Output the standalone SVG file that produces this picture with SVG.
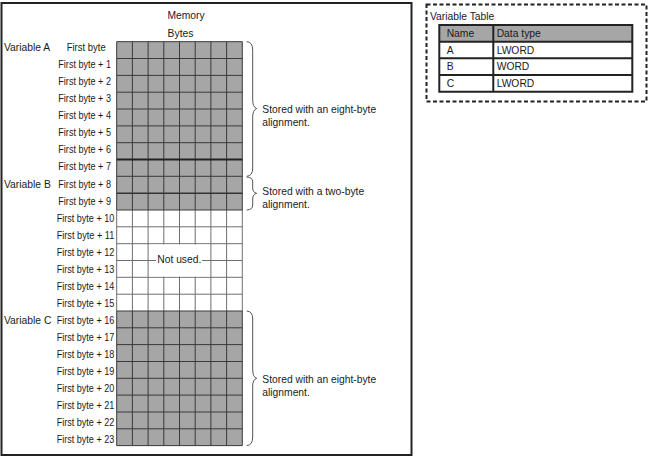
<svg xmlns="http://www.w3.org/2000/svg" width="649" height="460" viewBox="0 0 649 460">
<style>
text{font-family:"Liberation Sans",Arial,sans-serif;font-size:10.3px;fill:#1a1a1a}
.lbl{font-size:10.3px}
.gl{stroke:#3a3a3a;stroke-width:1;fill:none}
.wl{stroke:#6e6e6e;stroke-width:1;fill:none}
.br{stroke:#555;stroke-width:1;fill:none}
.cell{fill:#a6a6a6}
.tb{stroke:#222;stroke-width:2;fill:none}
</style>
<rect width="649" height="460" fill="#fff"/>
<rect id="frame" x="1.5" y="3" width="410" height="452" fill="none" stroke="#222" stroke-width="2"/>

<g id="memory">
<text x="186" y="19.3" text-anchor="middle">Memory</text>
<text x="180.5" y="37" text-anchor="middle">Bytes</text>
<!-- grey blocks -->
<rect class="cell" x="116.7" y="41.7" width="125.6" height="168.3"/>
<rect class="cell" x="116.7" y="311" width="125.6" height="134.6"/>
<!-- white area lines -->
<path class="wl" d="M116.7 226.8H242.3M116.7 243.7H242.3M116.7 260.5H242.3M116.7 277.3H242.3M116.7 294.2H242.3
M116.7 210V311M132.4 210V311M148.1 210V311M163.8 210V311M179.5 210V311M195.2 210V311M210.9 210V311M226.6 210V311M242.3 210V311"/>
<!-- grey area lines -->
<path class="gl" d="M116.7 41.7H242.3M116.7 58.5H242.3M116.7 75.4H242.3M116.7 92.2H242.3M116.7 109H242.3M116.7 125.9H242.3M116.7 142.7H242.3M116.7 176.3H242.3M116.7 210H242.3
M116.7 311H242.3M116.7 327.8H242.3M116.7 344.6H242.3M116.7 361.5H242.3M116.7 378.3H242.3M116.7 395.1H242.3M116.7 412H242.3M116.7 428.8H242.3M116.7 445.6H242.3
M116.7 41.7V210M132.4 41.7V210M148.1 41.7V210M163.8 41.7V210M179.5 41.7V210M195.2 41.7V210M210.9 41.7V210M226.6 41.7V210M242.3 41.7V210
M116.7 311V445.6M132.4 311V445.6M148.1 311V445.6M163.8 311V445.6M179.5 311V445.6M195.2 311V445.6M210.9 311V445.6M226.6 311V445.6M242.3 311V445.6"/>
<path d="M116.7 159.5H242.3" stroke="#222" stroke-width="1.8"/>
<path d="M116.7 193.2H242.3" stroke="#333" stroke-width="1.5"/>
<!-- Not used label -->
<rect x="149" y="244.5" width="61" height="32" fill="#fff"/>
<path class="wl" d="M149 260.5H156M202 260.5H210"/>
<text x="179.3" y="263.2" text-anchor="middle">Not used.</text>
</g>

<g id="row-labels">
<text x="4" y="51.3">Variable A</text>
<text x="4" y="187.5">Variable B</text>
<text x="4" y="323.6">Variable C</text>
<text x="66.7" y="51.3" textLength="39" lengthAdjust="spacingAndGlyphs">First byte</text>
<text x="58.3" y="68.3" textLength="52.7" lengthAdjust="spacingAndGlyphs">First byte + 1</text>
<text x="58.3" y="85.3" textLength="52.7" lengthAdjust="spacingAndGlyphs">First byte + 2</text>
<text x="58.3" y="102.4" textLength="52.7" lengthAdjust="spacingAndGlyphs">First byte + 3</text>
<text x="58.3" y="119.4" textLength="52.7" lengthAdjust="spacingAndGlyphs">First byte + 4</text>
<text x="58.3" y="136.4" textLength="52.7" lengthAdjust="spacingAndGlyphs">First byte + 5</text>
<text x="58.3" y="153.4" textLength="52.7" lengthAdjust="spacingAndGlyphs">First byte + 6</text>
<text x="58.3" y="170.4" textLength="52.7" lengthAdjust="spacingAndGlyphs">First byte + 7</text>
<text x="58.3" y="187.5" textLength="52.7" lengthAdjust="spacingAndGlyphs">First byte + 8</text>
<text x="58.3" y="204.5" textLength="52.7" lengthAdjust="spacingAndGlyphs">First byte + 9</text>
<text x="56.7" y="221.5" textLength="57.6" lengthAdjust="spacingAndGlyphs">First byte + 10</text>
<text x="56.7" y="238.5" textLength="57.6" lengthAdjust="spacingAndGlyphs">First byte + 11</text>
<text x="56.7" y="255.5" textLength="57.6" lengthAdjust="spacingAndGlyphs">First byte + 12</text>
<text x="56.7" y="272.6" textLength="57.6" lengthAdjust="spacingAndGlyphs">First byte + 13</text>
<text x="56.7" y="289.6" textLength="57.6" lengthAdjust="spacingAndGlyphs">First byte + 14</text>
<text x="56.7" y="306.6" textLength="57.6" lengthAdjust="spacingAndGlyphs">First byte + 15</text>
<text x="56.7" y="323.6" textLength="57.6" lengthAdjust="spacingAndGlyphs">First byte + 16</text>
<text x="56.7" y="340.6" textLength="57.6" lengthAdjust="spacingAndGlyphs">First byte + 17</text>
<text x="56.7" y="357.7" textLength="57.6" lengthAdjust="spacingAndGlyphs">First byte + 18</text>
<text x="56.7" y="374.7" textLength="57.6" lengthAdjust="spacingAndGlyphs">First byte + 19</text>
<text x="56.7" y="391.7" textLength="57.6" lengthAdjust="spacingAndGlyphs">First byte + 20</text>
<text x="56.7" y="408.7" textLength="57.6" lengthAdjust="spacingAndGlyphs">First byte + 21</text>
<text x="56.7" y="425.7" textLength="57.6" lengthAdjust="spacingAndGlyphs">First byte + 22</text>
<text x="56.7" y="442.8" textLength="57.6" lengthAdjust="spacingAndGlyphs">First byte + 23</text>
</g>

<g id="braces">
<path class="br" d="M246.7 41.7Q252.7 42 252.7 50V100Q252.7 107 256.7 108.5Q252.7 110 252.7 117V168Q252.7 176 246.7 176.3"/>
<path class="br" d="M246.7 177Q252.7 177.3 252.7 182V188Q252.7 192.5 256.7 193.3Q252.7 194.1 252.7 199V205Q252.7 209.8 246.7 210"/>
<path class="br" d="M246.7 311Q252.7 311.3 252.7 319V370Q252.7 377 256.7 378.3Q252.7 379.6 252.7 386V437Q252.7 445.3 246.7 445.6"/>
</g>

<g id="notes">
<text x="262.3" y="113">Stored with an eight-byte</text>
<text x="262.3" y="125.5">alignment.</text>
<text x="262.3" y="195">Stored with a two-byte</text>
<text x="262.3" y="208">alignment.</text>
<text x="262.3" y="383">Stored with an eight-byte</text>
<text x="262.3" y="395.5">alignment.</text>
</g>

<g id="variable-table">
<rect x="426.5" y="4.5" width="220" height="97" fill="none" stroke="#222" stroke-width="2" stroke-dasharray="4 2.5"/>
<text x="430" y="19.5">Variable Table</text>
<rect x="439.3" y="25" width="193" height="16.7" fill="#a6a6a6"/>
<path class="tb" d="M439.3 25H632.3V91.7H439.3Z M439.3 41.7H632.3M439.3 58.3H632.3M439.3 75H632.3M493.3 25V91.7"/>
<text x="446.7" y="37">Name</text>
<text x="496.7" y="37">Data type</text>
<text x="446.7" y="53.7">A</text>
<text x="496.7" y="53.7">LWORD</text>
<text x="446.7" y="70.4">B</text>
<text x="496.7" y="70.4">WORD</text>
<text x="446.7" y="87">C</text>
<text x="496.7" y="87">LWORD</text>
</g>
</svg>
